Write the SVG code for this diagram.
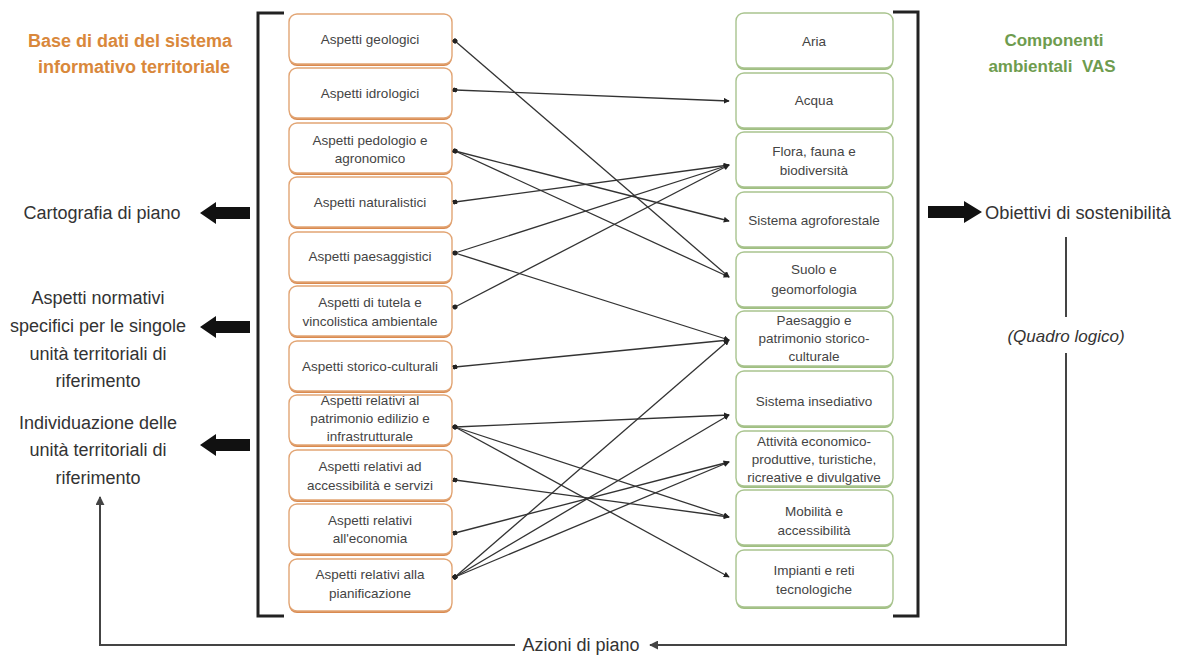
<svg xmlns="http://www.w3.org/2000/svg" width="1178" height="657" viewBox="0 0 1178 657">
<style>
.lb{fill:#fff;stroke:#e2a574;stroke-width:1.4}
.ls{fill:#d98a50}
.rb{fill:#fff;stroke:#a9c48f;stroke-width:1.4}
.rs{fill:#9fbf80}
.bt{font-family:"Liberation Sans",Arial,sans-serif;font-size:13.5px;fill:#444;text-anchor:middle}
.side{font-family:"Liberation Sans",Arial,sans-serif;font-size:18px;fill:#333;text-anchor:middle}
.hdo{font-family:"Liberation Sans",Arial,sans-serif;font-size:18px;font-weight:bold;fill:#d9883b;text-anchor:middle}
.hdg{font-family:"Liberation Sans",Arial,sans-serif;font-size:17px;font-weight:bold;fill:#6e9c4e;text-anchor:middle}
.cn{stroke:#333;stroke-width:1.3;fill:none;marker-start:url(#dot);marker-end:url(#ah)}
.br{stroke:#222;stroke-width:3;fill:none}
.fl{stroke:#444;stroke-width:2;fill:none}
.blk{fill:#111}
</style>
<defs>
<marker id="ah" viewBox="0 0 8 8" refX="7" refY="4" markerWidth="6" markerHeight="6" markerUnits="userSpaceOnUse" orient="auto"><path d="M0,0 L8,4 L0,8 z" fill="#222"/></marker>
<marker id="dot" viewBox="0 0 8 8" refX="4" refY="4" markerWidth="5" markerHeight="5" markerUnits="userSpaceOnUse" orient="auto"><circle cx="4" cy="4" r="4" fill="#222"/></marker>
<marker id="fa" viewBox="0 0 10 10" refX="9" refY="5" markerWidth="9" markerHeight="9" markerUnits="userSpaceOnUse" orient="auto"><path d="M0,0 L10,5 L0,10 z" fill="#444"/></marker>
</defs>

<!-- headers -->
<g id="header-left">
<text class="hdo" x="130" y="47">Base di dati del sistema</text>
<text class="hdo" x="134" y="73">informativo territoriale</text>
</g>
<g id="header-right">
<text class="hdg" x="1054" y="46">Componenti</text>
<text class="hdg" x="1052" y="72" xml:space="preserve">ambientali  VAS</text>
</g>

<!-- brackets -->
<g id="brackets">
<path class="br" d="M284,13 H258 V616 H284"/>
<path class="br" d="M893,12 H918 V616 H893"/>
</g>

<!-- left boxes -->
<g id="l1"><rect class="ls" x="289" y="16" width="163" height="50" rx="8"/><rect class="lb" x="289" y="14" width="163" height="50" rx="8"/><text class="bt" x="370" y="44">Aspetti geologici</text></g>
<g id="l2"><rect class="ls" x="289" y="70" width="163" height="50" rx="8"/><rect class="lb" x="289" y="68" width="163" height="50" rx="8"/><text class="bt" x="370" y="98">Aspetti idrologici</text></g>
<g id="l3"><rect class="ls" x="289" y="125" width="163" height="50" rx="8"/><rect class="lb" x="289" y="123" width="163" height="50" rx="8"/><text class="bt" x="370" y="145">Aspetti pedologio e</text><text class="bt" x="370" y="163">agronomico</text></g>
<g id="l4"><rect class="ls" x="289" y="179" width="163" height="50" rx="8"/><rect class="lb" x="289" y="177" width="163" height="50" rx="8"/><text class="bt" x="370" y="207">Aspetti naturalistici</text></g>
<g id="l5"><rect class="ls" x="289" y="234" width="163" height="50" rx="8"/><rect class="lb" x="289" y="232" width="163" height="50" rx="8"/><text class="bt" x="370" y="261">Aspetti paesaggistici</text></g>
<g id="l6"><rect class="ls" x="289" y="288" width="163" height="50" rx="8"/><rect class="lb" x="289" y="286" width="163" height="50" rx="8"/><text class="bt" x="370" y="307">Aspetti di tutela e</text><text class="bt" x="370" y="326">vincolistica ambientale</text></g>
<g id="l7"><rect class="ls" x="289" y="343" width="163" height="50" rx="8"/><rect class="lb" x="289" y="341" width="163" height="50" rx="8"/><text class="bt" x="370" y="371">Aspetti storico-culturali</text></g>
<g id="l8"><rect class="ls" x="289" y="397" width="163" height="50" rx="8"/><rect class="lb" x="289" y="395" width="163" height="50" rx="8"/><text class="bt" x="370" y="405">Aspetti relativi al</text><text class="bt" x="370" y="423">patrimonio edilizio e</text><text class="bt" x="370" y="441">infrastrutturale</text></g>
<g id="l9"><rect class="ls" x="289" y="452" width="163" height="50" rx="8"/><rect class="lb" x="289" y="450" width="163" height="50" rx="8"/><text class="bt" x="370" y="471">Aspetti relativi ad</text><text class="bt" x="370" y="490">accessibilità e servizi</text></g>
<g id="l10"><rect class="ls" x="289" y="506" width="163" height="50" rx="8"/><rect class="lb" x="289" y="504" width="163" height="50" rx="8"/><text class="bt" x="370" y="525">Aspetti relativi</text><text class="bt" x="370" y="543">all'economia</text></g>
<g id="l11"><rect class="ls" x="289" y="561" width="163" height="52" rx="8"/><rect class="lb" x="289" y="559" width="163" height="52" rx="8"/><text class="bt" x="370" y="579">Aspetti relativi alla</text><text class="bt" x="370" y="598">pianificazione</text></g>

<!-- right boxes -->
<g id="r1"><rect class="rs" x="736" y="15" width="157" height="55" rx="8"/><rect class="rb" x="736" y="13" width="157" height="55" rx="8"/><text class="bt" x="814" y="46">Aria</text></g>
<g id="r2"><rect class="rs" x="736" y="75" width="157" height="55" rx="8"/><rect class="rb" x="736" y="73" width="157" height="55" rx="8"/><text class="bt" x="814" y="105">Acqua</text></g>
<g id="r3"><rect class="rs" x="736" y="134" width="157" height="55" rx="8"/><rect class="rb" x="736" y="132" width="157" height="55" rx="8"/><text class="bt" x="814" y="156">Flora, fauna e</text><text class="bt" x="814" y="175">biodiversità</text></g>
<g id="r4"><rect class="rs" x="736" y="194" width="157" height="55" rx="8"/><rect class="rb" x="736" y="192" width="157" height="55" rx="8"/><text class="bt" x="814" y="225">Sistema agroforestale</text></g>
<g id="r5"><rect class="rs" x="736" y="254" width="157" height="55" rx="8"/><rect class="rb" x="736" y="252" width="157" height="55" rx="8"/><text class="bt" x="814" y="274">Suolo e</text><text class="bt" x="814" y="294">geomorfologia</text></g>
<g id="r6"><rect class="rs" x="736" y="313" width="157" height="55" rx="8"/><rect class="rb" x="736" y="311" width="157" height="55" rx="8"/><text class="bt" x="814" y="325">Paesaggio e</text><text class="bt" x="814" y="343">patrimonio storico-</text><text class="bt" x="814" y="361">culturale</text></g>
<g id="r7"><rect class="rs" x="736" y="373" width="157" height="55" rx="8"/><rect class="rb" x="736" y="371" width="157" height="55" rx="8"/><text class="bt" x="814" y="406">Sistema insediativo</text></g>
<g id="r8"><rect class="rs" x="736" y="433" width="157" height="55" rx="8"/><rect class="rb" x="736" y="431" width="157" height="55" rx="8"/><text class="bt" x="814" y="446">Attività economico-</text><text class="bt" x="814" y="464">produttive, turistiche,</text><text class="bt" x="814" y="482">ricreative e divulgative</text></g>
<g id="r9"><rect class="rs" x="736" y="492" width="157" height="55" rx="8"/><rect class="rb" x="736" y="490" width="157" height="55" rx="8"/><text class="bt" x="814" y="516">Mobilità e</text><text class="bt" x="814" y="535">accessibilità</text></g>
<g id="r10"><rect class="rs" x="736" y="552" width="157" height="57" rx="8"/><rect class="rb" x="736" y="550" width="157" height="57" rx="8"/><text class="bt" x="814" y="575">Impianti e reti</text><text class="bt" x="814" y="594">tecnologiche</text></g>

<!-- connectors -->
<g id="connectors">
<line class="cn" x1="455" y1="41" x2="729" y2="277"/>
<line class="cn" x1="455" y1="90" x2="729" y2="101"/>
<line class="cn" x1="455" y1="151" x2="729" y2="221"/>
<line class="cn" x1="455" y1="151" x2="729" y2="277"/>
<line class="cn" x1="455" y1="202" x2="729" y2="165"/>
<line class="cn" x1="455" y1="253" x2="729" y2="165"/>
<line class="cn" x1="455" y1="253" x2="729" y2="340"/>
<line class="cn" x1="455" y1="307" x2="729" y2="165"/>
<line class="cn" x1="455" y1="367" x2="729" y2="340"/>
<line class="cn" x1="455" y1="427" x2="729" y2="415"/>
<line class="cn" x1="455" y1="427" x2="729" y2="517"/>
<line class="cn" x1="455" y1="427" x2="729" y2="577"/>
<line class="cn" x1="455" y1="480" x2="729" y2="517"/>
<line class="cn" x1="455" y1="533" x2="729" y2="462"/>
<line class="cn" x1="455" y1="577" x2="729" y2="340"/>
<line class="cn" x1="455" y1="577" x2="729" y2="415"/>
<line class="cn" x1="455" y1="577" x2="729" y2="462"/>
</g>

<!-- side outputs -->
<g id="out-cartografia">
<text class="side" x="102" y="219">Cartografia di piano</text>
<path class="blk" d="M200,213 L216,202 L216,207 L250,207 L250,219 L216,219 L216,224 z"/>
</g>
<g id="out-normativi">
<text class="side" x="98" y="304">Aspetti normativi</text>
<text class="side" x="98" y="332">specifici per le singole</text>
<text class="side" x="98" y="360">unità territoriali di</text>
<text class="side" x="98" y="387">riferimento</text>
<path class="blk" d="M200,327 L216,316 L216,321 L250,321 L250,333 L216,333 L216,338 z"/>
</g>
<g id="out-individuazione">
<text class="side" x="98" y="429">Individuazione delle</text>
<text class="side" x="98" y="456">unità territoriali di</text>
<text class="side" x="98" y="484">riferimento</text>
<path class="blk" d="M200,445 L216,434 L216,439 L250,439 L250,451 L216,451 L216,456 z"/>
</g>
<g id="out-obiettivi">
<path class="blk" d="M982,212 L964,201 L964,206 L928,206 L928,218 L964,218 L964,223 z"/>
<text class="side" x="985" y="219" style="text-anchor:start" textLength="186" lengthAdjust="spacingAndGlyphs">Obiettivi di sostenibilità</text>
</g>
<g id="quadro">
<text class="side" x="1066" y="342" style="font-style:italic;font-size:17px">(Quadro logico)</text>
</g>
<g id="azioni">
<text class="side" x="581" y="651">Azioni di piano</text>
</g>

<!-- feedback flow -->
<g id="flow-connectors">
<line class="fl" x1="1066" y1="237" x2="1066" y2="317"/>
<path class="fl" d="M1066,353 V645 H650" marker-end="url(#fa)"/>
<path class="fl" d="M515,645 H100 V497" marker-end="url(#fa)"/>
</g>
</svg>
